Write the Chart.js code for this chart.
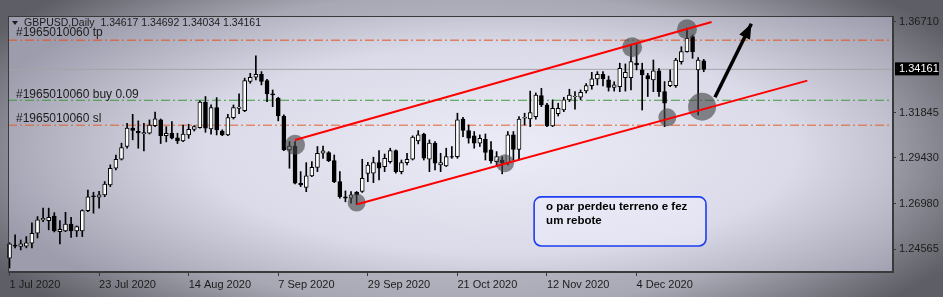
<!DOCTYPE html>
<html>
<head>
<meta charset="utf-8">
<script src="https://cdn.jsdelivr.net/npm/chart.js@4.4.0/dist/chart.umd.min.js"></script>
<style>
  html, body { margin: 0; padding: 0; background: #fff; }
  #wrap { width: 950px; height: 303px; }
</style>
</head>
<body>
<div id="wrap"><canvas id="chart" width="950" height="303"></canvas></div>
<script>
// GBPUSD daily candles, one per trading day starting 1 Jul 2020
const opens = [
  1.2408, 1.2478, 1.2470, 1.2472, 1.2488, 1.2541, 1.2612, 1.2608, 1.2633, 1.2550,
  1.2554, 1.2590, 1.2554, 1.2554, 1.2662, 1.2741, 1.2733, 1.2746, 1.2799, 1.2888,
  1.2936, 1.3004, 1.3102, 1.3085, 1.3072, 1.3075, 1.3115, 1.3146, 1.3062, 1.3075,
  1.3051, 1.3034, 1.3066, 1.3096, 1.3105, 1.3241, 1.3098, 1.3212, 1.3087, 1.3066,
  1.3158, 1.3208, 1.3196, 1.3351, 1.3374, 1.3390, 1.3356, 1.3285, 1.3262, 1.3167,
  1.2986, 1.3007, 1.2808, 1.2785, 1.2847, 1.2893, 1.2968, 1.2972, 1.2929, 1.2817,
  1.2735, 1.2728, 1.2759, 1.2764, 1.2860, 1.2862, 1.2918, 1.2897, 1.2923, 1.2982,
  1.2870, 1.2918, 1.2936, 1.3034, 1.3070, 1.2936, 1.3022, 1.2906, 1.2900, 1.2950,
  1.2950, 1.3150, 1.3089, 1.3061, 1.3022, 1.3043, 1.2986, 1.2923, 1.2932, 1.2915,
  1.3066, 1.2989, 1.3155, 1.3152, 1.3163, 1.3276, 1.3226, 1.3114, 1.3180, 1.3199,
  1.3253, 1.3270, 1.3267, 1.3301, 1.3329, 1.3365, 1.3390, 1.3360, 1.3319, 1.3324,
  1.3372, 1.3372, 1.3450, 1.3413, 1.3383, 1.3360, 1.3408, 1.3297, 1.3329, 1.3329,
  1.3457, 1.3511, 1.3591, 1.3413, 1.34617
];
const highs = [
  1.2490, 1.2532, 1.2505, 1.2523, 1.2596, 1.2630, 1.2675, 1.2675, 1.2651, 1.2608,
  1.2653, 1.2626, 1.2580, 1.2666, 1.2772, 1.2760, 1.2765, 1.2817, 1.2906, 1.2959,
  1.3022, 1.3128, 1.3176, 1.3141, 1.3128, 1.3146, 1.3188, 1.3151, 1.3110, 1.3137,
  1.3075, 1.3119, 1.3123, 1.3116, 1.3248, 1.3271, 1.3226, 1.3265, 1.3093, 1.3176,
  1.3226, 1.3285, 1.3369, 1.3395, 1.3488, 1.3404, 1.3363, 1.3306, 1.3267, 1.3173,
  1.3030, 1.3030, 1.2870, 1.2918, 1.2924, 1.3004, 1.3007, 1.2977, 1.2959, 1.2870,
  1.2767, 1.2764, 1.2764, 1.2936, 1.2919, 1.2947, 1.2982, 1.2964, 1.2995, 1.2986,
  1.2932, 1.2968, 1.3061, 1.3089, 1.3075, 1.3039, 1.3030, 1.2968, 1.2995, 1.3004,
  1.3182, 1.3160, 1.3119, 1.3084, 1.3066, 1.3071, 1.3030, 1.2977, 1.2950, 1.3084,
  1.3084, 1.3164, 1.3182, 1.3300, 1.3290, 1.3315, 1.3235, 1.3253, 1.3235, 1.3267,
  1.3310, 1.3297, 1.3306, 1.3340, 1.3400, 1.3404, 1.3404, 1.3380, 1.3350, 1.3449,
  1.3445, 1.3547, 1.3550, 1.3449, 1.3395, 1.3466, 1.3420, 1.3351, 1.3413, 1.3475,
  1.3537, 1.3636, 1.3600, 1.3479, 1.34692
];
const lows = [
  1.2355, 1.2462, 1.2452, 1.2463, 1.2462, 1.2516, 1.2603, 1.2559, 1.2548, 1.2484,
  1.2549, 1.2519, 1.2523, 1.2523, 1.2656, 1.2648, 1.2675, 1.2736, 1.2790, 1.2879,
  1.2932, 1.2995, 1.3040, 1.2995, 1.2981, 1.3071, 1.3110, 1.3020, 1.3029, 1.3045,
  1.3020, 1.3030, 1.3048, 1.3087, 1.3102, 1.3080, 1.3070, 1.3066, 1.3062, 1.3062,
  1.3151, 1.3180, 1.3190, 1.3342, 1.3360, 1.3333, 1.3244, 1.3217, 1.3141, 1.2982,
  1.2888, 1.2804, 1.2790, 1.2763, 1.2843, 1.2870, 1.2941, 1.2923, 1.2811, 1.2728,
  1.2709, 1.2701, 1.2695, 1.2759, 1.2817, 1.2811, 1.2826, 1.2870, 1.2915, 1.2862,
  1.2858, 1.2906, 1.2932, 1.3018, 1.2932, 1.2870, 1.2879, 1.2870, 1.2897, 1.2941,
  1.2941, 1.3057, 1.3022, 1.2995, 1.3004, 1.2932, 1.2915, 1.2897, 1.2858, 1.2906,
  1.2932, 1.2932, 1.3119, 1.3110, 1.3150, 1.3217, 1.3110, 1.3110, 1.3167, 1.3190,
  1.3244, 1.3203, 1.3253, 1.3290, 1.3310, 1.3333, 1.3328, 1.3300, 1.3300, 1.3297,
  1.3300, 1.3306, 1.3413, 1.3199, 1.3271, 1.3297, 1.3271, 1.3110, 1.3324, 1.3320,
  1.3444, 1.3508, 1.3475, 1.3173, 1.34034
];
const closes = [
  1.2485, 1.2472, 1.2485, 1.2490, 1.2541, 1.2612, 1.2620, 1.2626, 1.2554, 1.2562,
  1.2590, 1.2554, 1.2576, 1.2662, 1.2736, 1.2736, 1.2746, 1.2804, 1.2888, 1.2936,
  1.2998, 1.3102, 1.3090, 1.3076, 1.3078, 1.3119, 1.3152, 1.3062, 1.3075, 1.3048,
  1.3034, 1.3070, 1.3096, 1.3110, 1.3241, 1.3102, 1.3212, 1.3093, 1.3066, 1.3158,
  1.3212, 1.3215, 1.3356, 1.3374, 1.3390, 1.3351, 1.3285, 1.3280, 1.3167, 1.2986,
  1.3007, 1.2808, 1.2799, 1.2847, 1.2893, 1.2968, 1.2981, 1.2929, 1.2817, 1.2736,
  1.2728, 1.2746, 1.2745, 1.2834, 1.2905, 1.2918, 1.2888, 1.2941, 1.2982, 1.2870,
  1.2918, 1.2936, 1.3054, 1.3066, 1.2942, 1.3022, 1.2915, 1.2918, 1.2950, 1.2947,
  1.3146, 1.3090, 1.3048, 1.3022, 1.3048, 1.2972, 1.2929, 1.2950, 1.2918, 1.3066,
  1.2989, 1.3150, 1.3160, 1.3185, 1.3279, 1.3226, 1.3114, 1.3208, 1.3208, 1.3253,
  1.3279, 1.3272, 1.3294, 1.3329, 1.3365, 1.3390, 1.3365, 1.3319, 1.3333, 1.3422,
  1.3400, 1.3457, 1.3440, 1.3386, 1.3365, 1.3408, 1.3297, 1.3235, 1.3354, 1.3466,
  1.3511, 1.3582, 1.3511, 1.3466, 1.34161
];

// axis labels
const tickBars = [0, 16, 32, 48, 64, 80, 96, 112];
const tickLabels = ["1 Jul 2020", "23 Jul 2020", "14 Aug 2020", "7 Sep 2020",
                    "29 Sep 2020", "21 Oct 2020", "12 Nov 2020", "4 Dec 2020"];
const priceTicks = [1.36710, 1.31845, 1.29430, 1.26980, 1.24565];
const lastPrice = 1.34161;
const header = "GBPUSD,Daily  1.34617 1.34692 1.34034 1.34161";

// order levels
const tpPrice = 1.3572;
const buyPrice = 1.3251;
const slPrice = 1.3118;
const tpLabel = "#1965010060 tp";
const buyLabel = "#1965010060 buy 0.09";
const slLabel = "#1965010060 sl";

// drawn objects (bar index / price)
const upperChannel = [[51.0, 1.3039], [125.4, 1.3669]];
const lowerChannel = [[62.1, 1.2696], [142.5, 1.3356]];
const arrowPts = [[126.0, 1.3267], [132.5, 1.3660]];
const circleBars = [51.0, 62.0, 88.5, 111.2, 121.0, 117.5, 123.7];
const circlePrices = [1.3013, 1.2705, 1.2915, 1.3534, 1.3630, 1.3160, 1.3217];
const noteLines = ["o par perdeu terreno e fez", "um rebote"];
const noteBox = { x0: 93.7, x1: 124.4, top: 1.2735, bottom: 1.2473 };

// view range
const xMin = -0.27, xMax = 157.8;
const yMin = 1.2334, yMax = 1.3701;

const circleRadii = [10, 9, 9, 10, 10, 9, 14];
const fontFam = '"Liberation Sans", Arial, sans-serif';
const textColor = '#1c1c1c';

const wickData = highs.map((h, i) => ({ x: i, y: [lows[i], h] }));
const bodyData = opens.map((o, i) => ({ x: i, y: [o, closes[i]] }));
const bodyFill = opens.map((o, i) => closes[i] >= o ? '#ffffff' : '#000000');

function hLine(price) {
  return [{ x: xMin, y: price }, { x: xMax, y: price }];
}
function pts(arr) {
  return arr.map(p => ({ x: p[0], y: p[1] }));
}

const decorPlugin = {
  id: 'decor',
  beforeDraw(chart) {
    const { ctx, width, height, chartArea: a } = chart;
    ctx.save();
    ctx.fillStyle = '#ffffff';
    ctx.fillRect(0, 0, width, height);

    // window shading
    ctx.save();
    ctx.beginPath(); ctx.rect(0, 0, 943, 297); ctx.clip();
    ctx.translate(470, 150); ctx.scale(1, 0.4);
    let g = ctx.createRadialGradient(0, 0, 0, 0, 0, 560);
    g.addColorStop(0, '#dadae6');
    g.addColorStop(0.7, '#a8a8b4');
    g.addColorStop(1, '#5e5e66');
    ctx.fillStyle = g;
    ctx.fillRect(-700, -1200, 1400, 2400);
    ctx.restore();

    // plot area
    ctx.save();
    ctx.beginPath(); ctx.rect(a.left, a.top, a.right - a.left, a.bottom - a.top); ctx.clip();
    ctx.translate(500, 150); ctx.scale(1, 0.35);
    g = ctx.createRadialGradient(0, 0, 0, 0, 0, 540);
    g.addColorStop(0, '#ececf8');
    g.addColorStop(0.55, '#dadae8');
    g.addColorStop(1, '#9c9cac');
    ctx.fillStyle = g;
    ctx.fillRect(-700, -1200, 1400, 2400);
    ctx.restore();
    ctx.restore();
  },
  afterDraw(chart) {
    const { ctx, chartArea: a } = chart;
    const xs = chart.scales.x, ys = chart.scales.y;
    ctx.save();

    // frame
    ctx.strokeStyle = '#3a3a3a';
    ctx.lineWidth = 1;
    ctx.strokeRect(a.left + 0.5, a.top + 0.5, a.right - a.left - 1, a.bottom - a.top - 1);

    // arrow head
    const p1x = xs.getPixelForValue(arrowPts[0][0]), p1y = ys.getPixelForValue(arrowPts[0][1]);
    const p2x = xs.getPixelForValue(arrowPts[1][0]), p2y = ys.getPixelForValue(arrowPts[1][1]);
    const ang = Math.atan2(p2y - p1y, p2x - p1x);
    ctx.fillStyle = '#000000';
    ctx.beginPath();
    ctx.moveTo(p2x, p2y);
    ctx.lineTo(p2x - 15 * Math.cos(ang) + 6 * Math.sin(ang), p2y - 15 * Math.sin(ang) - 6 * Math.cos(ang));
    ctx.lineTo(p2x - 15 * Math.cos(ang) - 6 * Math.sin(ang), p2y - 15 * Math.sin(ang) + 6 * Math.cos(ang));
    ctx.closePath();
    ctx.fill();

    // note box
    const bx0 = xs.getPixelForValue(noteBox.x0), bx1 = xs.getPixelForValue(noteBox.x1);
    const by0 = ys.getPixelForValue(noteBox.top), by1 = ys.getPixelForValue(noteBox.bottom);
    ctx.beginPath();
    ctx.roundRect(bx0, by0, bx1 - bx0, by1 - by0, 7);
    ctx.fillStyle = 'rgba(236,236,252,0.55)';
    ctx.fill();
    ctx.strokeStyle = '#1e3cf0';
    ctx.lineWidth = 1.6;
    ctx.stroke();
    ctx.fillStyle = '#000000';
    ctx.font = 'bold 11.5px ' + fontFam;
    ctx.textBaseline = 'middle';
    ctx.textAlign = 'left';
    noteLines.forEach((t, k) => ctx.fillText(t, bx0 + 12, by0 + 10 + k * 14));

    // order labels
    ctx.font = '12px ' + fontFam;
    ctx.fillStyle = textColor;
    ctx.fillText(tpLabel, a.left + 8, ys.getPixelForValue(tpPrice) - 7);
    ctx.fillText(buyLabel, a.left + 8, ys.getPixelForValue(buyPrice) - 6);
    ctx.fillText(slLabel, a.left + 8, ys.getPixelForValue(slPrice) - 6);

    // header
    ctx.beginPath();
    ctx.moveTo(a.left + 4, a.top + 5);
    ctx.lineTo(a.left + 10, a.top + 5);
    ctx.lineTo(a.left + 7, a.top + 9);
    ctx.closePath();
    ctx.fill();
    ctx.font = '10.5px ' + fontFam;
    ctx.fillText(header, a.left + 16, a.top + 7);

    // current price tag
    ctx.font = '11px ' + fontFam;
    const ly = ys.getPixelForValue(lastPrice);
    ctx.fillStyle = '#000000';
    ctx.fillRect(a.right + 2, ly - 7, 44, 13);
    ctx.fillStyle = '#ffffff';
    ctx.fillText(lastPrice.toFixed(5), a.right + 6, ly);
    ctx.restore();
  }
};

const ctx = document.getElementById('chart').getContext('2d');
new Chart(ctx, {
  type: 'bar',
  data: {
    datasets: [
      { type: 'line', data: hLine(lastPrice), borderColor: '#a4a4a4', borderWidth: 1, pointRadius: 0, order: 20 },
      { type: 'line', data: hLine(tpPrice), borderColor: '#e4541c', borderWidth: 1, borderDash: [9, 3, 2, 3], pointRadius: 0, order: 20 },
      { type: 'line', data: hLine(buyPrice), borderColor: '#3c9c3c', borderWidth: 1, borderDash: [9, 3, 2, 3], pointRadius: 0, order: 20 },
      { type: 'line', data: hLine(slPrice), borderColor: '#e4602c', borderWidth: 1, borderDash: [9, 3, 2, 3], pointRadius: 0, order: 20 },
      { data: wickData, backgroundColor: '#000000', barThickness: 1, grouped: false, order: 10 },
      { data: bodyData, backgroundColor: bodyFill, borderColor: '#000000', borderWidth: 1, borderSkipped: false,
        barThickness: 4, grouped: false, order: 9 },
      { type: 'bubble', data: circleBars.map((b, i) => ({ x: b, y: circlePrices[i], r: circleRadii[i] })),
        backgroundColor: 'rgba(70,70,72,0.62)', borderWidth: 0, order: 5 },
      { type: 'line', data: pts(upperChannel), borderColor: '#ff0000', borderWidth: 2, pointRadius: 0, order: 3 },
      { type: 'line', data: pts(lowerChannel), borderColor: '#ff0000', borderWidth: 2, pointRadius: 0, order: 3 },
      { type: 'line', data: pts(arrowPts), borderColor: '#000000', borderWidth: 3.5, pointRadius: 0, order: 2 }
    ]
  },
  options: {
    responsive: false,
    animation: false,
    clip: false,
    layout: { autoPadding: false, padding: { left: 8, top: 16, right: 0, bottom: 0 } },
    plugins: { legend: { display: false }, tooltip: { enabled: false } },
    scales: {
      x: {
        type: 'linear', min: xMin, max: xMax, offset: false,
        afterBuildTicks: s => { s.ticks = tickBars.map(v => ({ value: v })); },
        afterFit: s => { s.height = 31; s.paddingLeft = 0; s.paddingRight = 0; },
        ticks: {
          autoSkip: false, maxRotation: 0, align: 'start', padding: 2,
          color: textColor, font: { family: fontFam, size: 11 },
          callback: v => tickLabels[tickBars.indexOf(v)]
        },
        grid: { drawOnChartArea: false, offset: false, tickLength: 4, color: '#3a3a3a' },
        border: { display: true, color: '#3a3a3a' }
      },
      y: {
        type: 'linear', position: 'right', min: yMin, max: yMax,
        afterBuildTicks: s => { s.ticks = priceTicks.map(v => ({ value: v })); },
        afterFit: s => { s.width = 57; s.paddingTop = 0; s.paddingBottom = 0; },
        ticks: {
          padding: 3, color: textColor, font: { family: fontFam, size: 11 },
          callback: v => Number(v).toFixed(5)
        },
        grid: { drawOnChartArea: false, tickLength: 3, color: '#3a3a3a' },
        border: { display: true, color: '#3a3a3a' }
      }
    }
  },
  plugins: [decorPlugin]
});
</script>
</body>
</html>
